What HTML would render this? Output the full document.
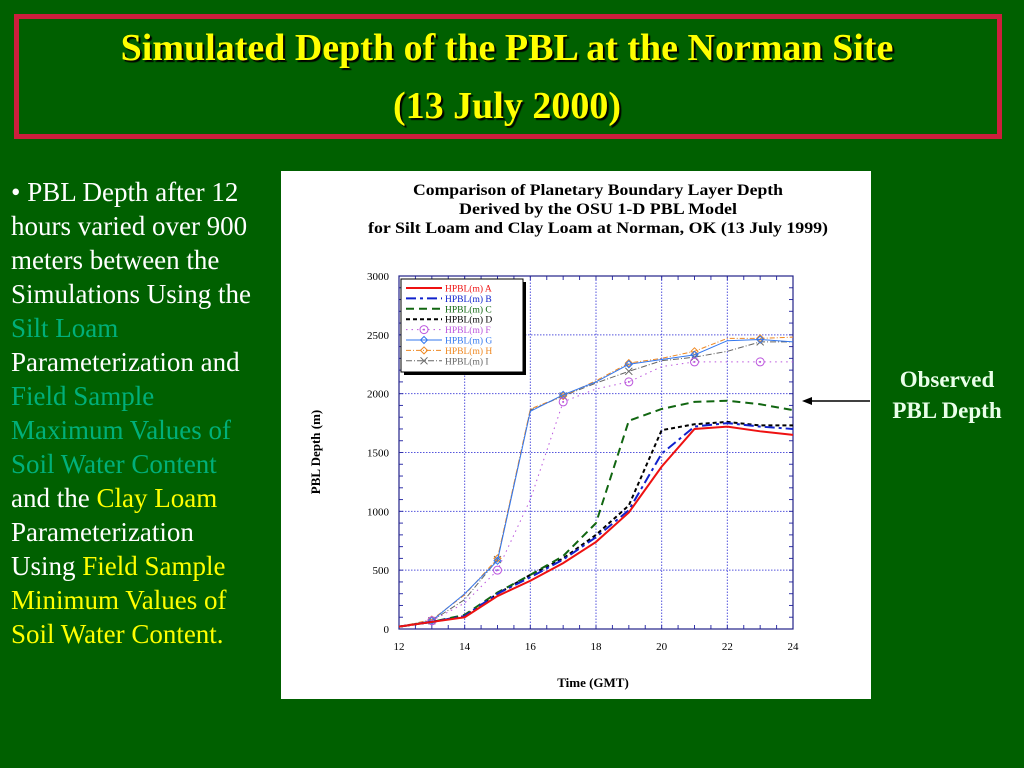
<!DOCTYPE html>
<html><head><meta charset="utf-8"><style>
body{margin:0;width:1024px;height:768px;background:#006000;overflow:hidden;position:relative;font-family:"Liberation Serif",serif}
#tbox{position:absolute;left:14px;top:14px;width:978px;height:115px;border:5px solid #cc1f3c}
.t{position:absolute;left:0;width:1014px;text-align:center;color:#ffff00;font-weight:bold;font-size:38px;line-height:40px;text-shadow:2px 2px 1px #000}
#txt{position:absolute;left:11px;top:175px;color:#fff;font-size:27px;line-height:34px;white-space:nowrap}
.tl{color:#00b07a}.y{color:#ffff00}
#obs{position:absolute;left:872px;top:364px;width:150px;text-align:center;color:#eaffea;font-weight:bold;font-size:23px;line-height:31px}
svg{position:absolute;left:0;top:0}
</style></head><body>
<div id="tbox"></div>
<div class="t" style="top:28px">Simulated Depth of the PBL at the Norman Site</div>
<div class="t" style="top:86px">(13 July 2000)</div>
<div id="txt">• PBL Depth after 12<br>hours varied over 900<br>meters between the<br>Simulations Using the<br><span class="tl">Silt Loam</span><br>Parameterization and<br><span class="tl">Field Sample<br>Maximum Values of<br>Soil Water Content</span><br>and the <span class="y">Clay Loam</span><br>Parameterization<br>Using <span class="y">Field Sample<br>Minimum Values of<br>Soil Water Content.</span></div>
<div id="obs">Observed<br>PBL Depth</div>
<svg id="c" width="1024" height="768"></svg>
<script>
const hours=[12,13,14,15,16,17,18,19,20,21,22,23,24];
const xTicks=[12,14,16,18,20,22,24];
const yTicks=[0,500,1000,1500,2000,2500,3000];
const sA=[20,60,100,280,410,560,740,990,1380,1700,1720,1680,1650];
const sB=[20,60,110,300,440,590,780,1010,1490,1720,1750,1720,1700];
const sC=[20,60,120,310,460,620,900,1770,1870,1930,1940,1910,1860];
const sD=[20,60,110,300,460,600,800,1050,1690,1740,1760,1730,1730];
const sF=[20,70,220,500,1100,1930,2040,2100,2230,2270,2270,2270,2270];
const sG=[20,70,300,580,1850,1990,2100,2250,2290,2330,2450,2460,2440];
const sH=[20,80,290,600,1870,1980,2110,2260,2300,2360,2470,2470,2480];
const sI=[20,70,250,590,1860,1980,2090,2190,2280,2310,2360,2440,2440];
const names=['A','B','C','D','F','G','H','I'];
const NS='http://www.w3.org/2000/svg',svg=document.getElementById('c');
function mk(t,a,p){const e=document.createElementNS(NS,t);for(const k in a)e.setAttribute(k,a[k]);(p||svg).appendChild(e);return e;}
const X=v=>399+(v-12)/12*394, Y=v=>629-v/3000*353;
const panel=mk('rect',{x:281,y:171,width:590,height:528,fill:'#fff'});

[['Comparison of Planetary Boundary Layer Depth',195,370],['Derived by the OSU 1-D PBL Model',214,278],['for Silt Loam and Clay Loam at Norman, OK (13 July 1999)',233,460]].forEach((l,i)=>{
 const t=mk('text',{x:598,y:l[1],'text-anchor':'middle','font-size':16,'font-weight':'bold','font-family':'Liberation Serif',textLength:l[2],lengthAdjust:'spacingAndGlyphs'});t.textContent=l[0];
 });
const g=mk('g',{});
xTicks.forEach(v=>{mk('line',{x1:X(v),x2:X(v),y1:Y(0),y2:Y(3000),stroke:'#5555dd','stroke-dasharray':'1.5 1.5'},g);
 const t=mk('text',{x:X(v),y:650,'text-anchor':'middle','font-size':11,'font-family':'Liberation Serif'});t.textContent=v;
 });
yTicks.forEach(v=>{mk('line',{x1:X(12),x2:X(24),y1:Y(v),y2:Y(v),stroke:'#5555dd','stroke-dasharray':'1.5 1.5'},g);
 const t=mk('text',{x:389,y:Y(v)+4,'text-anchor':'end','font-size':11,'font-family':'Liberation Serif'});t.textContent=v;
 });
for(let h=12;h<=24;h+=0.5){mk('line',{x1:X(h),x2:X(h),y1:Y(0),y2:Y(0)-4,stroke:'#3333aa'},g);mk('line',{x1:X(h),x2:X(h),y1:Y(3000),y2:Y(3000)+4,stroke:'#3333aa'},g);}
for(let v=0;v<=3000;v+=100){mk('line',{x1:X(12),x2:X(12)+4,y1:Y(v),y2:Y(v),stroke:'#3333aa'},g);mk('line',{x1:X(24),x2:X(24)-4,y1:Y(v),y2:Y(v),stroke:'#3333aa'},g);}
const fr=mk('rect',{x:X(12),y:Y(3000),width:X(24)-X(12),height:Y(0)-Y(3000),fill:'none',stroke:'#222288','stroke-width':1.2});

const yt=mk('text',{transform:'translate(320,452) rotate(-90)','text-anchor':'middle','font-size':13,'font-weight':'bold','font-family':'Liberation Serif'});yt.textContent='PBL Depth (m)';

const xt=mk('text',{x:593,y:687,'text-anchor':'middle','font-size':13,'font-weight':'bold','font-family':'Liberation Serif'});xt.textContent='Time (GMT)';

const series=[sA,sB,sC,sD,sF,sG,sH,sI];
const sty=[{c:'#ee1111',w:2,d:''},{c:'#1122cc',w:2,d:'10 4 3 4'},{c:'#116611',w:2,d:'8 5'},{c:'#000',w:2,d:'4 3'},{c:'#bb55dd',w:1,d:'1.5 4',m:'o'},{c:'#3377ee',w:1,d:'',m:'d'},{c:'#ee8822',w:1,d:'5 2 1 2',m:'d'},{c:'#666',w:1,d:'6 2 1 2',m:'x'}];
function marker(m,x,y,c,p){if(m=='o'){mk('circle',{cx:x,cy:y,r:4,fill:'none',stroke:c},p);mk('circle',{cx:x,cy:y,r:1,fill:c},p);}
 else if(m=='d')mk('path',{d:`M${x-3.5} ${y}L${x} ${y-3.5}L${x+3.5} ${y}L${x} ${y+3.5}Z`,fill:'none',stroke:c},p);
 else if(m=='x')mk('path',{d:`M${x-3.5} ${y-3.5}L${x+3.5} ${y+3.5}M${x+3.5} ${y-3.5}L${x-3.5} ${y+3.5}`,stroke:c},p);}
series.slice().reverse().forEach((s,ri)=>{const i=series.length-1-ri,st=sty[i];
 const sg=mk('g',{});
 mk('polyline',{points:s.map((v,k)=>X(hours[k])+','+Y(v)).join(' '),fill:'none',stroke:st.c,'stroke-width':st.w,'stroke-dasharray':st.d},sg);
 if(st.m)s.forEach((v,k)=>{if(k%2==1)marker(st.m,X(hours[k]),Y(v),st.c,sg);});});
const lg=mk('g',{});
mk('rect',{x:404,y:282,width:122,height:93,fill:'#000'},lg);
mk('rect',{x:401,y:279,width:122,height:93,fill:'#fff',stroke:'#000'},lg);
names.forEach((n,i)=>{const st=sty[i],y=288+i*10.4;
 mk('line',{x1:406,x2:442,y1:y,y2:y,stroke:st.c,'stroke-width':st.w,'stroke-dasharray':st.d||'none'},lg);
 if(st.m)marker(st.m,424,y,st.c,lg);
 const t=mk('text',{x:445,y:y+3.5,'font-size':9.5,fill:st.c,'font-family':'Liberation Serif'},lg);t.textContent='HPBL(m)  '+n;
 });
const ar=mk('g',{});
mk('line',{x1:810,x2:870,y1:401,y2:401,stroke:'#000','stroke-width':1.5},ar);
mk('path',{d:'M802 401L812 397L812 405Z',fill:'#000'},ar);
</script>
</body></html>
